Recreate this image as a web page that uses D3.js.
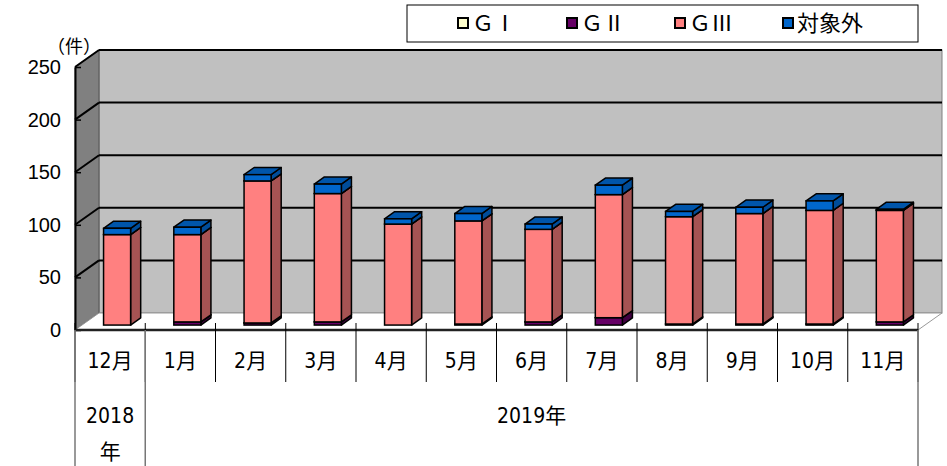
<!DOCTYPE html>
<html>
<head>
<meta charset="utf-8">
<script src="https://cdn.jsdelivr.net/npm/d3@7"></script>
<style>
  body { margin: 0; background: #fff; }
  svg text { font-family: "Liberation Sans", Arial, "Noto Sans CJK JP", sans-serif; }
  .narrow { font-family: "Liberation Sans Narrow", "DejaVu Sans Condensed", "Noto Sans CJK JP", sans-serif; }
</style>
</head>
<body>
<div id="chart"></div>
<script>
// 1: DATA
const months = ["12月", "1月", "2月", "3月", "4月", "5月", "6月", "7月", "8月", "9月", "10月", "11月"];
const seriesNames = ["ＧⅠ", "ＧⅡ", "ＧⅢ", "対象外"];
const gI    = [0, 0, 0, 0, 0, 0, 0, 0, 0, 0, 0, 0];
const gII   = [0, 3, 2, 3, 0, 1, 3, 7, 1, 1, 1, 3];
const gIII  = [86, 83, 135, 122, 96, 98, 88, 117, 102, 105, 108, 106];
const other = [6, 7, 6, 9, 5, 7, 5, 9, 5, 6, 9, 1];
const yTicks = [0, 50, 100, 150, 200, 250];
const yearGroups = [
    { label: ["2018", "年"], from: "12月", to: "12月" },
    { label: ["2019年"], from: "1月", to: "11月" }
];

// colours: front, side, top
const colors = [
    { front: "#FFFFCC", side: "#A6A685", top: "#CCCCA3" },
    { front: "#660066", side: "#420042", top: "#520052" },
    { front: "#FF8080", side: "#A65353", top: "#CC6666" },
    { front: "#0066CC", side: "#004C99", top: "#0055AA" }
];

// 2: SIZE + SCALES
const W = 947, H = 466;
const svg = d3.select("#chart").append("svg")
    .attr("width", W)
    .attr("height", H);

const x = d3.scaleBand().domain(months).range([75, 918]);
const y = d3.scaleLinear().domain([0, 250]).range([330, 67]);
const depth = { x: 24, y: -17 };   // full depth of the 3D box
const f1 = 0.29, f2 = 0.71;        // bar front / back position in the depth
const barW = x.bandwidth() * 0.385;

// 3: WALLS
const g = svg.append("g");
const yTop = y(250), yBot = y(0), xL = x.range()[0], xR = x.range()[1];

// back wall
g.append("rect")
    .attr("x", xL + depth.x).attr("y", yTop + depth.y)
    .attr("width", xR - xL).attr("height", yBot - yTop)
    .attr("fill", "#C0C0C0").attr("stroke", "#808080").attr("stroke-width", 1);

// left wall
g.append("path")
    .attr("d", `M${xL},${yTop}L${xL + depth.x},${yTop + depth.y}L${xL + depth.x},${yBot + depth.y}L${xL},${yBot}Z`)
    .attr("fill", "#808080").attr("stroke", "#555");

// floor
g.append("path")
    .attr("d", `M${xL},${yBot}L${xL + depth.x},${yBot + depth.y}L${xR + depth.x},${yBot + depth.y}L${xR},${yBot}Z`)
    .attr("fill", "#fff").attr("stroke", "#999");

// gridlines on back wall and left wall
yTicks.filter(d => d > 0).forEach(v => {
    g.append("line")
        .attr("x1", xL + depth.x).attr("x2", xR + depth.x)
        .attr("y1", y(v) + depth.y).attr("y2", y(v) + depth.y)
        .attr("stroke", "#000").attr("stroke-width", 2);
    g.append("line")
        .attr("x1", xL).attr("x2", xL + depth.x)
        .attr("y1", y(v)).attr("y2", y(v) + depth.y)
        .attr("stroke", "#000").attr("stroke-width", 2);
});

// 4: BARS (stacked, 3D)
const series = [gI, gII, gIII, other];
months.forEach((m, i) => {
    let base = 0;
    const x0 = x(m) + x.bandwidth() / 2 - barW / 2 + depth.x * f1;
    const dy0 = depth.y * f1;
    const ddx = depth.x * (f2 - f1), ddy = depth.y * (f2 - f1);
    series.forEach((s, k) => {
        const v = s[i];
        if (v <= 0) return;
        const yb = y(base) + dy0, yt = y(base + v) + dy0;
        const c = colors[k];
        const bar = g.append("g");
        // side face
        bar.append("path")
            .attr("d", `M${x0 + barW},${yb}L${x0 + barW + ddx},${yb + ddy}L${x0 + barW + ddx},${yt + ddy}L${x0 + barW},${yt}Z`)
            .attr("fill", c.side).attr("stroke", "#000").attr("stroke-width", 1.5).attr("stroke-linejoin", "round");
        // top face
        bar.append("path")
            .attr("d", `M${x0},${yt}L${x0 + ddx},${yt + ddy}L${x0 + barW + ddx},${yt + ddy}L${x0 + barW},${yt}Z`)
            .attr("fill", c.top).attr("stroke", "#000").attr("stroke-width", 1.5).attr("stroke-linejoin", "round");
        // front face
        bar.append("rect")
            .attr("x", x0).attr("y", yt)
            .attr("width", barW).attr("height", yb - yt)
            .attr("fill", c.front).attr("stroke", "#000").attr("stroke-width", 1.5);
        base += v;
    });
});

// 5: AXES
// y axis
const yAxis = svg.append("g")
    .attr("transform", `translate(${xL},0)`)
    .call(d3.axisLeft(y).tickValues(yTicks).tickSizeInner(-6).tickSizeOuter(0).tickPadding(14));
yAxis.select(".domain").attr("stroke", "#000").attr("stroke-width", 2);
yAxis.selectAll(".tick line").attr("stroke", "#000").attr("stroke-width", 1.5);
yAxis.selectAll(".tick text")
    .style("font-size", "20px")
    .attr("fill", "#000");

svg.append("text")
    .attr("x", 74).attr("y", 53)
    .attr("text-anchor", "middle")
    .style("font-size", "18px")
    .style("font-family", "'Noto Sans CJK JP', sans-serif")
    .text("（件）");

// x axis: base line, dividers, labels
svg.append("line")
    .attr("x1", xL).attr("x2", xR)
    .attr("y1", yBot).attr("y2", yBot)
    .attr("stroke", "#222").attr("stroke-width", 2.5);

const edges = months.map(m => x(m)).concat([xR]);
svg.selectAll(".divider")
    .data(edges)
    .enter()
    .append("line")
    .attr("class", "divider")
    .attr("x1", d => d).attr("x2", d => d)
    .attr("y1", yBot - 7).attr("y2", yBot + 52)
    .attr("stroke", "#000").attr("stroke-width", 1);

// long lines between year groups
const yearEdges = [xL, x("1月"), xR];
svg.selectAll(".yearline")
    .data(yearEdges)
    .enter()
    .append("line")
    .attr("class", "yearline")
    .attr("x1", d => d).attr("x2", d => d)
    .attr("y1", yBot).attr("y2", H)
    .attr("stroke", "#777").attr("stroke-width", 1.5);

svg.selectAll(".mlabel")
    .data(months)
    .enter()
    .append("text")
    .attr("class", "mlabel narrow")
    .attr("x", d => x(d) + x.bandwidth() / 2)
    .attr("y", 368)
    .attr("text-anchor", "middle")
    .style("font-size", "21px")
    .text(d => d);

yearGroups.forEach(gr => {
    const cx = (x(gr.from) + x(gr.to) + x.bandwidth()) / 2;
    gr.label.forEach((t, j) => {
        svg.append("text")
            .attr("class", "narrow")
            .attr("x", cx)
            .attr("y", 423 + j * 36)
            .attr("text-anchor", "middle")
            .style("font-size", "21px")
            .text(t);
    });
});

// 6: LEGEND
svg.append("rect")
    .attr("x", 407).attr("y", 5)
    .attr("width", 511).attr("height", 37)
    .attr("fill", "#fff").attr("stroke", "#000").attr("stroke-width", 1);

const legendX = [458, 567, 675, 783];
const legend = svg.selectAll(".legend")
    .data(seriesNames)
    .enter()
    .append("g")
    .attr("class", "legend")
    .attr("transform", (d, i) => `translate(${legendX[i]}, 18)`);

legend.append("rect")
    .attr("width", 10).attr("height", 10)
    .attr("fill", (d, i) => colors[i].front)
    .attr("stroke", "#000").attr("stroke-width", 2);

legend.append("text")
    .attr("x", 14)
    .attr("y", 5)
    .attr("dy", "0.38em")
    .style("font-size", "22px")
    .style("font-family", "'Noto Sans CJK JP', sans-serif")
    .text(d => d);
</script>
</body>
</html>
